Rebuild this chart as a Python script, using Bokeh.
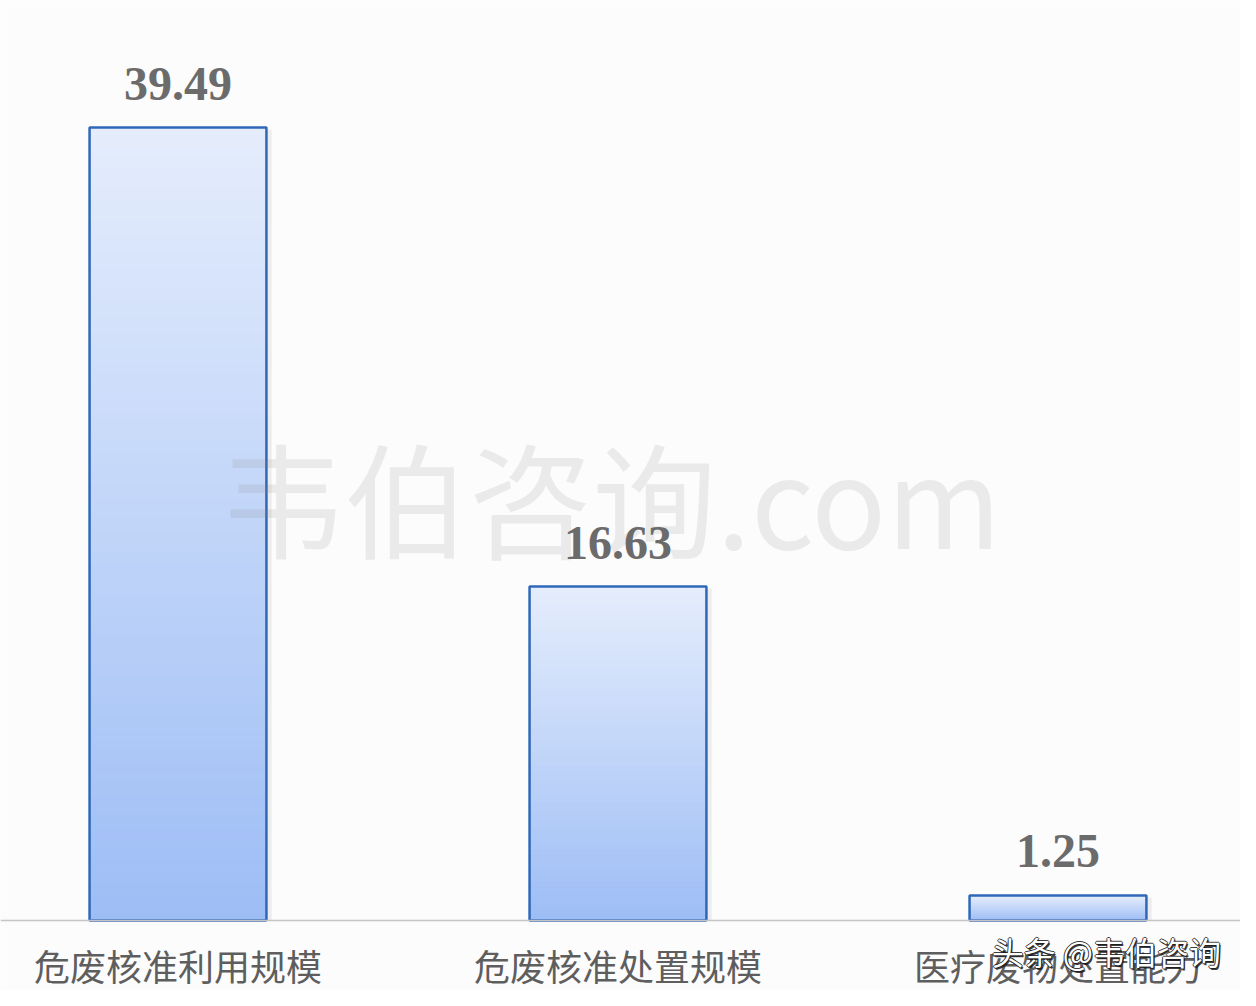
from bokeh.plotting import figure
from bokeh.models import Range1d, Span, ColumnDataSource
from bokeh.embed import file_html
from bokeh.resources import INLINE
from bokeh.core.properties import value

categories = ["危废核准利用规模", "危废核准处置规模", "医疗废物处置能力"]
values = [39.49, 16.63, 1.25]
value_labels = ["39.49", "16.63", "1.25"]

TOP_COLOR = (0xE5, 0xED, 0xFC)
BOTTOM_COLOR = (0x9D, 0xBD, 0xF5)
OUTLINE = "#2F68B8"
BG = "#FCFCFD"

p = figure(width=1240, height=990, output_backend="svg", toolbar_location=None,
           x_range=Range1d(-0.4034, 2.4148), y_range=Range1d(-3.486, 45.82),
           min_border_left=0, min_border_right=0, min_border_top=0, min_border_bottom=0,
           background_fill_color=BG, border_fill_color=BG, outline_line_color=None)

p.grid.visible = False
p.xaxis.visible = False
p.yaxis.visible = False

xs = list(range(len(categories)))
bw = 0.402
N = 120

# baseline
p.add_layout(Span(location=0, dimension="width", line_color="#C4C4C4", line_width=1.5))

# soft shadow to the right of each bar
p.quad(left=[i - bw / 2 + 0.012 for i in xs], right=[i + bw / 2 + 0.012 for i in xs],
       bottom=[0] * len(values), top=[v - 0.1 for v in values],
       fill_color="#000000", fill_alpha=0.06, line_color=None)

# gradient fill: stacked slices, light at top, blue at bottom
L, R, B, T, C = [], [], [], [], []
for i, v in enumerate(values):
    for k in range(N):
        f = (k + 0.5) / N  # 0 bottom, 1 top
        col = tuple(int(round(BOTTOM_COLOR[j] + (TOP_COLOR[j] - BOTTOM_COLOR[j]) * f)) for j in range(3))
        L.append(i - bw / 2); R.append(i + bw / 2)
        B.append(v * k / N); T.append(v * (k + 1) / N)
        C.append("#%02x%02x%02x" % col)
p.quad(left=L, right=R, bottom=B, top=T, fill_color=C, line_color=C, line_width=1)

# outlines
src = ColumnDataSource(dict(x=xs, top=values, lab=value_labels))
p.vbar(x="x", top="top", width=bw, bottom=0, source=src, fill_color=None,
       line_color=OUTLINE, line_width=2.5)

# category labels
p.text(x=xs, y=[-2.24] * len(xs), text=categories, text_font=value("Noto Sans CJK SC"),
       text_font_size="36px", text_color="#5E5E5E", text_align="center", text_baseline="middle")

# big watermark
p.text(x=[0.982], y=[21.2], text=["韦伯咨询.com"], text_font=value("Noto Sans CJK SC"),
       text_font_size="124px", text_color="#808080", text_alpha=0.14,
       text_align="center", text_baseline="middle")

# value labels
p.text(x="x", y="top", text="lab", source=src, text_font=value("Liberation Serif"),
       text_font_style="bold", text_font_size="48px", text_color="#6B6B6B",
       text_align="center", text_baseline="alphabetic", y_offset=-44)

# bottom-right watermark (dark outline + white)
wm = "头条 @韦伯咨询"
for dx, dy in [(-1, 0), (1, 0), (0, -1), (0, 1), (1.5, 1.5)]:
    p.text(x=[2.11], y=[-1.54], text=[wm], x_offset=dx, y_offset=dy,
           text_font=value("Noto Sans CJK SC"), text_font_size="32px",
           text_color="#1A1A1A", text_alpha=0.85, text_align="center", text_baseline="middle")
p.text(x=[2.11], y=[-1.54], text=[wm], text_font=value("Noto Sans CJK SC"),
       text_font_size="32px", text_color="#FFFFFF", text_align="center", text_baseline="middle")

open("out.html", "w").write(file_html(p, INLINE))
